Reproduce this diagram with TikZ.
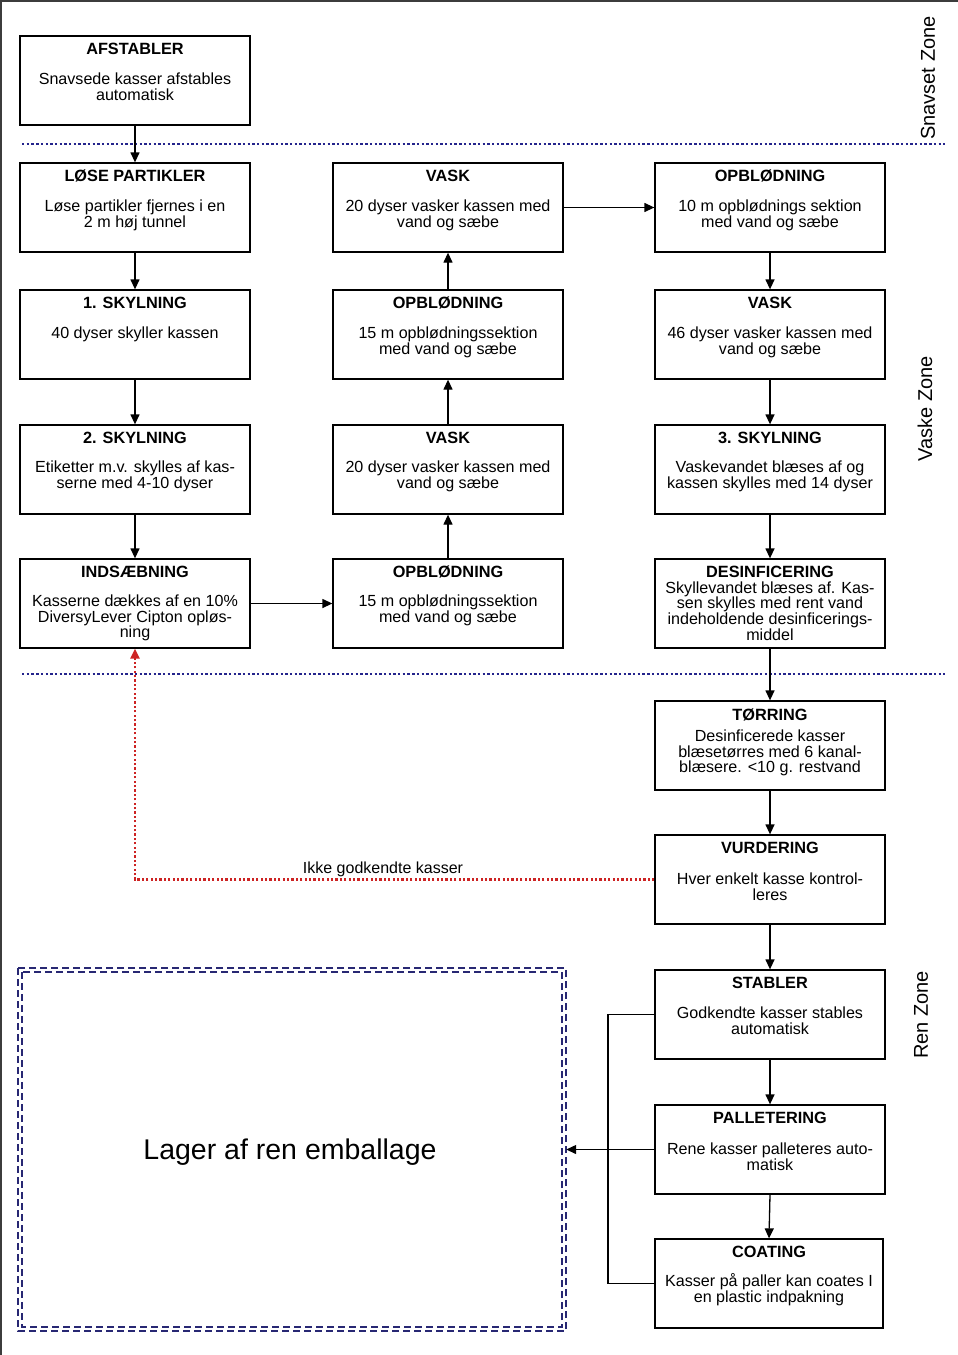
\documentclass[tikz,border=0pt]{standalone}
\usepackage{fontspec}
\setmainfont{Liberation Sans}
\usetikzlibrary{arrows.meta}
\definecolor{zoneblue}{RGB}{36,36,140}
\definecolor{boxnavy}{RGB}{40,40,115}
\definecolor{redline}{RGB}{205,35,35}
\definecolor{framegray}{RGB}{60,60,60}
\begin{document}
\begin{tikzpicture}[x=1pt,y=-1pt,
  procbox/.style={draw=black, line width=1.3pt, minimum width=230pt, minimum height=89pt, inner sep=0pt},
  ttl/.style={font=\fontsize{16.3}{16}\selectfont\bfseries, inner sep=0pt},
  bdy/.style={font=\fontsize{16.1}{15.8}\selectfont, align=center, inner sep=0pt},
  zonelbl/.style={font=\fontsize{20}{20}\selectfont, rotate=90, inner sep=0pt},
  arr/.style={draw=black, line width=1.3pt, -{Triangle[length=10pt,width=9pt]}},
  conn/.style={draw=black, line width=1.3pt},
  zoneline/.style={draw=zoneblue, line width=2.5pt, dash pattern=on 2.4pt off 2.3pt},
  redarr/.style={draw=redline, line width=2.2pt, dash pattern=on 2.2pt off 2.2pt, -{Triangle[length=10pt,width=9pt]}},
  stordash/.style={draw=boxnavy, line width=1.8pt, dash pattern=on 7pt off 4pt}
]
\useasboundingbox (0,0) rectangle (958,1355);
\fill[white] (0,0) rectangle (958,1355);
% page frame
\draw[framegray, line width=1.5pt] (0.75,1355) -- (0.75,0.75) -- (958,0.75);

% zone separators
\draw[zoneline] (22,144) -- (945,144);
\draw[zoneline] (22,674) -- (945,674);

% zone labels
\node[zonelbl] (zsnav) at (928,78) {Snavset Zone};
\node[zonelbl] (zvask) at (925,409) {Vaske Zone};
\node[zonelbl] (zren) at (921,1015) {Ren Zone};

% boxes
\node[procbox] (afst) at (135,80.5) {};
\node[procbox] (lose) at (135,207.5) {};
\node[procbox] (sky1) at (135,334.5) {};
\node[procbox] (sky2) at (135,469.5) {};
\node[procbox] (inds) at (135,603.5) {};
\node[procbox] (vask1) at (448,207.5) {};
\node[procbox] (opb2) at (448,334.5) {};
\node[procbox] (vask3) at (448,469.5) {};
\node[procbox] (opb4) at (448,603.5) {};
\node[procbox] (opbR) at (770,207.5) {};
\node[procbox] (vaskR) at (770,334.5) {};
\node[procbox] (sky3) at (770,469.5) {};
\node[procbox] (desi) at (770,603.5) {};
\node[procbox] (torr) at (770,745.5) {};
\node[procbox] (vurd) at (770,879.5) {};
\node[procbox] (stab) at (770,1014.5) {};
\node[procbox] (pall) at (770,1149.5) {};
\node[procbox, minimum width=228pt] (coat) at (769,1283.5) {};

% titles
\node[ttl] (t1) at (135,48.5) {AFSTABLER};
\node[ttl] (t2) at (135,175.5) {LØSE PARTIKLER};
\node[ttl] (t3) at (135,302.5) {1. SKYLNING};
\node[ttl] (t4) at (135,437.5) {2. SKYLNING};
\node[ttl] (t5) at (135,571.5) {INDSÆBNING};
\node[ttl] (t6) at (448,175.5) {VASK};
\node[ttl] (t7) at (448,302.5) {OPBLØDNING};
\node[ttl] (t8) at (448,437.5) {VASK};
\node[ttl] (t9) at (448,571.5) {OPBLØDNING};
\node[ttl] (t10) at (770,175.5) {OPBLØDNING};
\node[ttl] (t11) at (770,302.5) {VASK};
\node[ttl] (t12) at (770,437.5) {3. SKYLNING};
\node[ttl] (t13) at (770,571.5) {DESINFICERING};
\node[ttl] (t14) at (770,714.5) {TØRRING};
\node[ttl] (t15) at (770,847.5) {VURDERING};
\node[ttl] (t16) at (770,982.5) {STABLER};
\node[ttl] (t17) at (770,1117.5) {PALLETERING};
\node[ttl] (t18) at (769,1251.5) {COATING};

% bodies
\node[bdy] (b1) at (135,87) {Snavsede kasser afstables\\automatisk};
\node[bdy] (b2) at (135,215) {Løse partikler fjernes i en\\2 m høj tunnel};
\node[bdy] (b3) at (135,334) {40 dyser skyller kassen};
\node[bdy] (b4) at (135,476) {Etiketter m.v. skylles af kas-\\serne med 4-10 dyser};
\node[bdy] (b5) at (135,618) {Kasserne dækkes af en 10\%\\DiversyLever Cipton opløs-\\ning};
\node[bdy] (b6) at (448,215) {20 dyser vasker kassen med\\vand og sæbe};
\node[bdy] (b7) at (448,342) {15 m opblødningssektion\\med vand og sæbe};
\node[bdy] (b8) at (448,476) {20 dyser vasker kassen med\\vand og sæbe};
\node[bdy] (b9) at (448,610) {15 m opblødningssektion\\med vand og sæbe};
\node[bdy] (b10) at (770,215) {10 m opblødnings sektion\\med vand og sæbe};
\node[bdy] (b11) at (770,342) {46 dyser vasker kassen med\\vand og sæbe};
\node[bdy] (b12) at (770,476) {Vaskevandet blæses af og\\kassen skylles med 14 dyser};
\node[bdy] (b13) at (770,611) {Skyllevandet blæses af. Kas-\\sen skylles med rent vand\\indeholdende desinficerings-\\middel};
\node[bdy] (b14) at (770,753) {Desinficerede kasser\\blæsetørres med 6 kanal-\\blæsere. <10 g. restvand};
\node[bdy] (b15) at (770,887) {Hver enkelt kasse kontrol-\\leres};
\node[bdy] (b16) at (770,1021) {Godkendte kasser stables\\automatisk};
\node[bdy] (b17) at (770,1157) {Rene kasser palleteres auto-\\matisk};
\node[bdy] (b18) at (769,1290) {Kasser på paller kan coates I\\en plastic indpakning};

% storage
\node[minimum width=548pt, minimum height=363pt, inner sep=0pt] (lager) at (292,1149.5) {};
\draw[stordash] (18,968) rectangle (566,1331);
\draw[stordash] (22,972) rectangle (562,1327);
\node[font=\fontsize{28.5}{28}\selectfont, inner sep=0pt] (lagtxt) at (290,1152) {Lager af ren emballage};

% connectors
\draw[arr] (afst.south) -- (lose.north);
\draw[arr] (lose.south) -- (sky1.north);
\draw[arr] (sky1.south) -- (sky2.north);
\draw[arr] (sky2.south) -- (inds.north);
\draw[arr] (inds.east) -- (opb4.west);
\draw[arr] (opb4.north) -- (vask3.south);
\draw[arr] (vask3.north) -- (opb2.south);
\draw[arr] (opb2.north) -- (vask1.south);
\draw[arr] (vask1.east) -- (opbR.west);
\draw[arr] (opbR.south) -- (vaskR.north);
\draw[arr] (vaskR.south) -- (sky3.north);
\draw[arr] (sky3.south) -- (desi.north);
\draw[arr] (desi.south) -- (torr.north);
\draw[arr] (torr.south) -- (vurd.north);
\draw[arr] (vurd.south) -- (stab.north);
\draw[arr] (stab.south) -- (pall.north);
\draw[arr] (pall.south) -- (coat.north);

% rejected loop
\draw[redarr] (vurd.west) -- (vurd.west -| inds.south) -- (inds.south);
\node[font=\fontsize{16}{16}\selectfont, inner sep=0pt] (rejlbl) at (383,869.5) {Ikke godkendte kasser};

% to storage
\coordinate (bx) at (608,1015);
\draw[conn] (stab.west) -- (stab.west -| bx) |- (coat.west);
\draw[arr] (pall.west) -- (lager.east);
\end{tikzpicture}
\end{document}
